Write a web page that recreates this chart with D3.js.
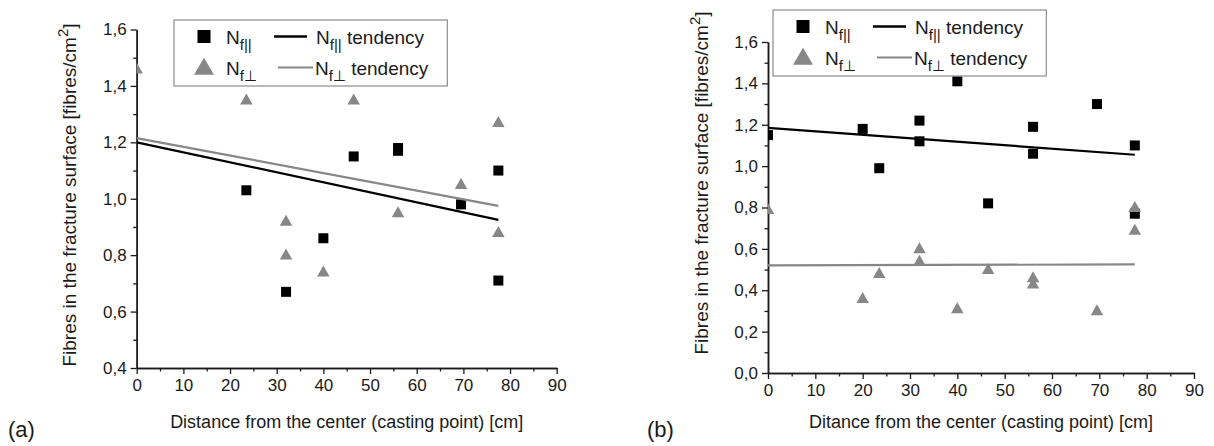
<!DOCTYPE html>
<html>
<head>
<meta charset="utf-8">
<script src="https://cdn.jsdelivr.net/npm/d3@7"></script>
<style>
  body { margin: 0; background: #fff; }
  svg { display: block; font-family: "Liberation Sans", Arial, sans-serif; }
</style>
</head>
<body>
<svg id="chart" width="1214" height="446"></svg>
<script>
// ---- data (distance in cm, density in fibres/cm2) ----
var distParA  = [23.5, 32, 40, 46.5, 56, 56, 69.5, 77.5, 77.5];
var nParA     = [1.03, 0.67, 0.86, 1.15, 1.18, 1.17, 0.98, 1.10, 0.71];
var distPerpA = [0, 23.5, 32, 32, 40, 46.5, 56, 69.5, 77.5, 77.5];
var nPerpA    = [1.46, 1.35, 0.92, 0.80, 0.74, 1.35, 0.95, 1.05, 1.27, 0.88];
var trendX    = [0, 77.5];
var trendParA  = [1.200, 0.925];
var trendPerpA = [1.215, 0.975];

var distParB  = [0, 20, 23.5, 32, 32, 40, 46.5, 56, 56, 69.5, 77.5, 77.5];
var nParB     = [1.15, 1.18, 0.99, 1.22, 1.12, 1.41, 0.82, 1.19, 1.06, 1.30, 1.10, 0.77];
var distPerpB = [0, 20, 23.5, 32, 32, 40, 46.5, 56, 56, 69.5, 77.5, 77.5];
var nPerpB    = [0.79, 0.36, 0.48, 0.60, 0.54, 0.31, 0.50, 0.46, 0.43, 0.30, 0.80, 0.69];
var trendParB  = [1.185, 1.055];
var trendPerpB = [0.520, 0.525];

var xTicks      = [0, 10, 20, 30, 40, 50, 60, 70, 80, 90];
var xMinorTicks = [5, 15, 25, 35, 45, 55, 65, 75, 85];
var yTicksA      = [0.4, 0.6, 0.8, 1.0, 1.2, 1.4, 1.6];
var yMinorTicksA = [0.5, 0.7, 0.9, 1.1, 1.3, 1.5];
var yTicksB      = [0.0, 0.2, 0.4, 0.6, 0.8, 1.0, 1.2, 1.4, 1.6];
var yMinorTicksB = [0.1, 0.3, 0.5, 0.7, 0.9, 1.1, 1.3, 1.5];

var xTitleA = "Distance from the center (casting point) [cm]";
var xTitleB = "Ditance from the center (casting point) [cm]";

var GREY = "#878787";
var INK = "#1a1a1a";

var svg = d3.select("#chart");

var panels = [
  { id: "a", left: 136.7, right: 556.7, top: 29.5, bottom: 368, yDomain: [0.4, 1.6],
    yTicks: yTicksA, yMinor: yMinorTicksA,
    par: [distParA, nParA], perp: [distPerpA, nPerpA], tPar: trendParA, tPerp: trendPerpA,
    legX: 174, legY: 20, yTitleX: 76, yTitleY: 195, xTitle: xTitleA, tag: "(a)", tagX: 8 },
  { id: "b", left: 768, right: 1194, top: 42, bottom: 373, yDomain: [0, 1.6],
    yTicks: yTicksB, yMinor: yMinorTicksB,
    par: [distParB, nParB], perp: [distPerpB, nPerpB], tPar: trendParB, tPerp: trendPerpB,
    legX: 773, legY: 10, yTitleX: 708, yTitleY: 183, xTitle: xTitleB, tag: "(b)", tagX: 647 }
];

var fmtY = function(d) { return d3.format(".1f")(d).replace(".", ","); };

function triPath(w, h) {
  return "M0," + (-h * 0.6) + "L" + (w / 2) + "," + (h * 0.4) + "L" + (-w / 2) + "," + (h * 0.4) + "Z";
}

function styleAxis(sel) {
  sel.select(".domain").attr("stroke", INK).attr("stroke-width", 1.5);
  sel.selectAll(".tick line").attr("stroke", INK).attr("stroke-width", 1.3);
  sel.selectAll(".tick text").attr("fill", INK).style("font-size", "17px")
    .style("font-family", "\"Liberation Sans\", Arial, sans-serif");
}

panels.forEach(function(p) {
  var x = d3.scaleLinear().domain([0, 90]).range([p.left, p.right]);
  var y = d3.scaleLinear().domain(p.yDomain).range([p.bottom, p.top]);
  var g = svg.append("g").attr("class", "panel-" + p.id);

  g.append("clipPath").attr("id", "clip-" + p.id)
    .append("rect")
      .attr("x", p.left).attr("y", p.top - 12)
      .attr("width", p.right - p.left + 10).attr("height", p.bottom - p.top + 12);

  // axes: minor first, then major with labels
  g.append("g").attr("transform", "translate(0," + p.bottom + ")")
    .call(d3.axisBottom(x).tickValues(xMinorTicks).tickSize(3.5).tickSizeOuter(0).tickFormat(""))
    .call(styleAxis);
  g.append("g").attr("transform", "translate(0," + p.bottom + ")")
    .call(d3.axisBottom(x).tickValues(xTicks).tickSize(6).tickSizeOuter(0).tickPadding(5).tickFormat(d3.format("d")))
    .call(styleAxis);
  g.append("g").attr("transform", "translate(" + p.left + ",0)")
    .call(d3.axisLeft(y).tickValues(p.yMinor).tickSize(3.5).tickSizeOuter(0).tickFormat(""))
    .call(styleAxis);
  g.append("g").attr("transform", "translate(" + p.left + ",0)")
    .call(d3.axisLeft(y).tickValues(p.yTicks).tickSize(6).tickSizeOuter(0).tickPadding(4).tickFormat(fmtY))
    .call(styleAxis);

  var marks = g.append("g").attr("clip-path", "url(#clip-" + p.id + ")");

  marks.selectAll("rect.par")
      .data(d3.zip(p.par[0], p.par[1]))
    .enter().append("rect")
      .attr("class", "par")
      .attr("x", function(d) { return x(d[0]) - 5; })
      .attr("y", function(d) { return y(d[1]) - 5; })
      .attr("width", 10).attr("height", 10)
      .attr("fill", "#000");

  marks.selectAll("path.perp")
      .data(d3.zip(p.perp[0], p.perp[1]))
    .enter().append("path")
      .attr("class", "perp")
      .attr("d", triPath(12.5, 11))
      .attr("transform", function(d) { return "translate(" + x(d[0]) + "," + y(d[1]) + ")"; })
      .attr("fill", GREY);

  var line = d3.line().x(function(d) { return x(d[0]); }).y(function(d) { return y(d[1]); });
  marks.append("path").datum(d3.zip(trendX, p.tPerp))
    .attr("d", line).attr("fill", "none").attr("stroke", GREY).attr("stroke-width", 2.2);
  marks.append("path").datum(d3.zip(trendX, p.tPar))
    .attr("d", line).attr("fill", "none").attr("stroke", "#000").attr("stroke-width", 2.2);

  // axis titles
  g.append("text")
    .attr("x", (p.left + p.right) / 2).attr("y", 428)
    .attr("text-anchor", "middle").attr("fill", INK)
    .style("font-size", "18px")
    .text(p.xTitle);

  var yt = g.append("text")
    .attr("transform", "translate(" + p.yTitleX + "," + p.yTitleY + ") rotate(-90)")
    .attr("text-anchor", "middle").attr("fill", INK)
    .style("font-size", "19px");
  yt.append("tspan").text("Fibres in the fracture surface [fibres/cm");
  yt.append("tspan").attr("dy", -8).style("font-size", "15px").text("2");
  yt.append("tspan").attr("dy", 8).text("]");

  g.append("text")
    .attr("x", p.tagX).attr("y", 437)
    .attr("fill", INK).style("font-size", "22px")
    .text(p.tag);

  // legend
  var lg = g.append("g").attr("transform", "translate(" + p.legX + "," + p.legY + ")");
  var box = lg.append("rect")
    .attr("width", 266).attr("height", 66)
    .attr("fill", "#fff").attr("stroke", "#8c8c8c").attr("stroke-width", 1.2);

  lg.append("rect").attr("x", 23.5).attr("y", 10).attr("width", 13).attr("height", 13).attr("fill", "#000");
  lg.append("path").attr("d", triPath(20, 17)).attr("transform", "translate(30,48)").attr("fill", GREY);
  lg.append("line").attr("x1", 100).attr("x2", 133).attr("y1", 16.5).attr("y2", 16.5)
    .attr("stroke", "#000").attr("stroke-width", 2.5);
  lg.append("line").attr("x1", 104).attr("x2", 139).attr("y1", 47.5).attr("y2", 47.5)
    .attr("stroke", GREY).attr("stroke-width", 2.2);

  function legendText(tx, ty, sub, suffix) {
    var t = lg.append("text").attr("x", tx).attr("y", ty).attr("fill", INK).style("font-size", "19px");
    t.append("tspan").text("N");
    t.append("tspan").attr("dy", 6).style("font-size", "15px").text(sub);
    if (suffix) t.append("tspan").attr("dy", -6).text(suffix);
    return t;
  }
  legendText(52, 23.5, "f||");
  legendText(52, 55, "f\u22a5");
  var t1 = legendText(142, 23.5, "f||", " tendency");
  var t2 = legendText(141, 55, "f\u22a5", " tendency");
  var w = Math.max(142 + t1.node().getComputedTextLength(), 141 + t2.node().getComputedTextLength());
  box.attr("width", w + 19);
});
</script>
</body>
</html>
